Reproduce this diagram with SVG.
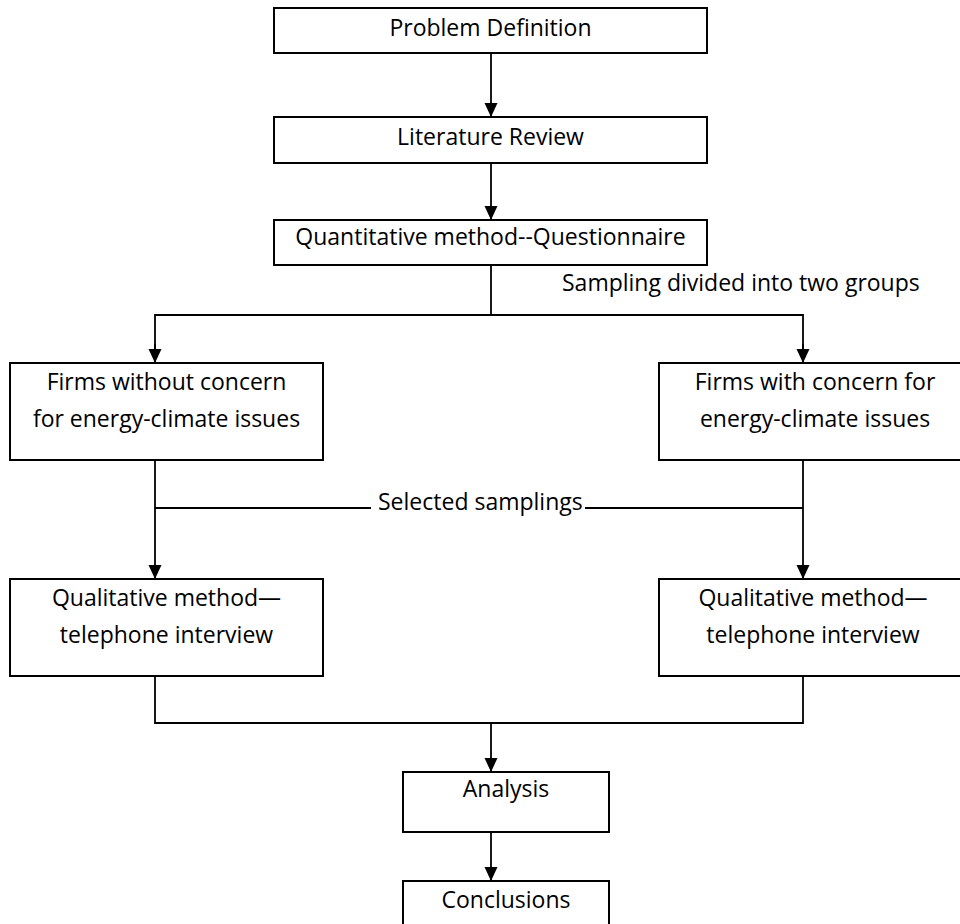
<svg xmlns="http://www.w3.org/2000/svg" width="960" height="924" viewBox="0 0 960 924">
<style>
.box{fill:#fff;stroke:#000;stroke-width:2}
.ln{fill:none;stroke:#000;stroke-width:1.8}
.t{font-family:"Open Sans","Liberation Sans",sans-serif;font-size:23px;fill:#000;text-anchor:middle}
.ts{font-family:"Open Sans","Liberation Sans",sans-serif;font-size:23px;fill:#000}
</style>
<defs>
<marker id="ah" markerUnits="userSpaceOnUse" markerWidth="14" markerHeight="14" refX="14" refY="6.5" orient="auto" viewBox="0 0 14 13">
<path d="M0,0 L14,6.5 L0,13 z" fill="#000"/>
</marker>
</defs>
<rect width="960" height="924" fill="#fff"/>
<g id="connectors">
<line class="ln" x1="491" y1="53" x2="491" y2="117" marker-end="url(#ah)"/>
<line class="ln" x1="491" y1="163" x2="491" y2="220" marker-end="url(#ah)"/>
<line class="ln" x1="491" y1="265" x2="491" y2="315"/>
<polyline class="ln" points="155,362 155,315 803,315 803,362"/>
<line class="ln" x1="155" y1="344" x2="155" y2="363" marker-end="url(#ah)"/>
<line class="ln" x1="803" y1="344" x2="803" y2="363" marker-end="url(#ah)"/>
<line class="ln" x1="155" y1="460" x2="155" y2="579" marker-end="url(#ah)"/>
<line class="ln" x1="803" y1="460" x2="803" y2="579" marker-end="url(#ah)"/>
<line class="ln" x1="155" y1="508" x2="371" y2="508"/>
<line class="ln" x1="585" y1="508" x2="803" y2="508"/>
<text class="ts" x="378" y="510">Selected samplings</text>
<text class="ts" x="562" y="291">Sampling divided into two groups</text>
<polyline class="ln" points="155,676 155,723 803,723 803,676"/>
<line class="ln" x1="491" y1="723" x2="491" y2="772" marker-end="url(#ah)"/>
<line class="ln" x1="491" y1="832" x2="491" y2="881" marker-end="url(#ah)"/>
</g>
<g id="problem">
<rect class="box" x="274" y="8" width="433" height="45"/>
<text class="t" x="490.5" y="36">Problem Definition</text>
</g>
<g id="literature">
<rect class="box" x="274" y="117" width="433" height="46"/>
<text class="t" x="490.5" y="145">Literature Review</text>
</g>
<g id="quantitative">
<rect class="box" x="274" y="220" width="433" height="45"/>
<text class="t" x="490.5" y="245">Quantitative method--Questionnaire</text>
</g>
<g id="firms-without">
<rect class="box" x="10" y="363" width="313" height="97"/>
<text class="t" x="166.5" y="390">Firms without concern</text>
<text class="t" x="166.5" y="427">for energy-climate issues</text>
</g>
<g id="firms-with">
<rect class="box" x="659" y="363" width="313" height="97"/>
<text class="t" x="815" y="390">Firms with concern for</text>
<text class="t" x="815" y="427">energy-climate issues</text>
</g>
<g id="qual-left">
<rect class="box" x="10" y="579" width="313" height="97"/>
<text class="t" x="166.5" y="606">Qualitative method—</text>
<text class="t" x="166.5" y="643">telephone interview</text>
</g>
<g id="qual-right">
<rect class="box" x="659" y="579" width="313" height="97"/>
<text class="t" x="813" y="606">Qualitative method—</text>
<text class="t" x="813" y="643">telephone interview</text>
</g>
<g id="analysis">
<rect class="box" x="403" y="772" width="206" height="60"/>
<text class="t" x="506" y="797">Analysis</text>
</g>
<g id="conclusions">
<rect class="box" x="403" y="881" width="206" height="60"/>
<text class="t" x="506" y="908">Conclusions</text>
</g>
</svg>
